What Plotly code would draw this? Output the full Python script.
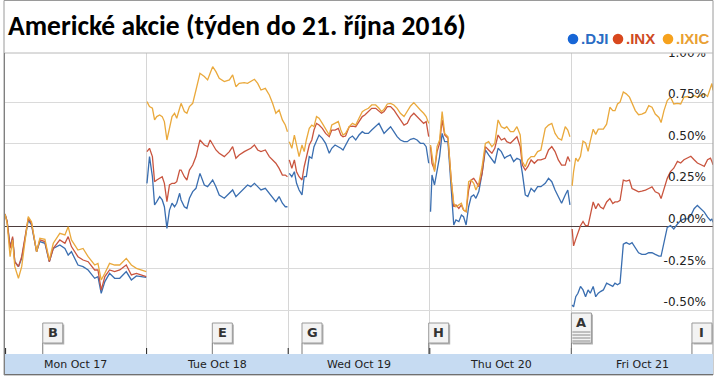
import plotly.graph_objects as go

# ---------------- data (percent change vs. previous close) ----------------
DAY_LABELS = ["Mon Oct 17", "Tue Oct 18", "Wed Oct 19", "Thu Oct 20", "Fri Oct 21"]
SERIES_NAMES = [".DJI", ".INX", ".IXIC"]
Y_TICKS = [-0.5, -0.25, 0.0, 0.25, 0.5, 0.75, 1.0]
Y_TICK_TEXT = ["-0.50%", "-0.25%", "0.00%", "0.25%", "0.50%", "0.75%", "1.00%"]

# minutes after market open for each sample, per day
MON_T = [0, 6, 14, 21, 27, 37, 46, 55, 64, 73, 87, 96, 110, 122, 133, 151, 165, 174, 183, 201, 215, 229, 247, 256, 265, 275, 288, 302, 316, 334, 348, 362, 375, 389]
MON_DJI = [0.078, 0.032, -0.118, -0.068, -0.209, -0.239, -0.189, -0.078, 0.042, 0.012, -0.149, -0.088, -0.098, -0.209, -0.129, -0.108, -0.129, -0.169, -0.149, -0.229, -0.239, -0.259, -0.309, -0.299, -0.400, -0.329, -0.279, -0.309, -0.309, -0.269, -0.319, -0.295, -0.299, -0.303]
MON_INX = [0.078, 0.032, -0.129, -0.058, -0.209, -0.239, -0.179, -0.058, 0.052, 0.022, -0.149, -0.078, -0.088, -0.209, -0.129, -0.078, -0.098, -0.058, -0.118, -0.179, -0.199, -0.209, -0.259, -0.259, -0.380, -0.299, -0.259, -0.269, -0.259, -0.229, -0.289, -0.279, -0.289, -0.299]
MON_IXIC = [0.078, 0.022, -0.179, -0.078, -0.239, -0.309, -0.239, -0.078, 0.062, 0.032, -0.149, -0.068, -0.074, -0.199, -0.098, -0.038, -0.048, 0.002, -0.078, -0.139, -0.129, -0.179, -0.229, -0.219, -0.319, -0.279, -0.219, -0.229, -0.229, -0.189, -0.229, -0.249, -0.259, -0.269]

TUE_T = [1, 8, 16, 22, 28, 36, 43, 49, 56, 63, 70, 77, 83, 91, 95, 104, 111, 118, 127, 136, 147, 159, 168, 175, 182, 191, 200, 214, 228, 237, 246, 255, 269, 278, 287, 297, 306, 315, 327, 338, 347, 356, 365, 374, 382, 388]
TUE_DJI = [0.263, 0.424, 0.303, 0.133, 0.153, 0.183, 0.163, 0.122, -0.008, 0.102, 0.143, 0.122, 0.143, 0.203, 0.163, 0.122, 0.112, 0.173, 0.213, 0.233, 0.323, 0.253, 0.243, 0.263, 0.283, 0.243, 0.193, 0.173, 0.203, 0.223, 0.183, 0.203, 0.233, 0.253, 0.243, 0.263, 0.243, 0.223, 0.233, 0.203, 0.173, 0.153, 0.183, 0.143, 0.122, 0.122]
TUE_INX = [0.454, 0.474, 0.424, 0.273, 0.283, 0.293, 0.303, 0.263, 0.153, 0.253, 0.263, 0.263, 0.273, 0.343, 0.343, 0.303, 0.283, 0.343, 0.373, 0.424, 0.524, 0.494, 0.484, 0.524, 0.494, 0.464, 0.444, 0.424, 0.454, 0.484, 0.414, 0.434, 0.454, 0.464, 0.474, 0.494, 0.464, 0.454, 0.464, 0.424, 0.404, 0.384, 0.353, 0.313, 0.313, 0.303]
TUE_IXIC = [0.755, 0.725, 0.715, 0.645, 0.665, 0.675, 0.665, 0.635, 0.524, 0.604, 0.665, 0.685, 0.655, 0.715, 0.745, 0.695, 0.685, 0.725, 0.745, 0.825, 0.926, 0.906, 0.886, 0.926, 0.966, 0.936, 0.896, 0.876, 0.886, 0.916, 0.845, 0.865, 0.869, 0.865, 0.876, 0.890, 0.865, 0.825, 0.835, 0.795, 0.745, 0.685, 0.705, 0.645, 0.614, 0.574]

WED_T = [3, 10, 17, 23, 30, 38, 44, 50, 58, 65, 71, 78, 85, 94, 103, 113, 120, 129, 138, 145, 151, 158, 168, 177, 186, 195, 204, 211, 221, 230, 241, 250, 257, 264, 273, 282, 291, 300, 309, 319, 328, 337, 346, 355, 364, 373, 380, 387]
WED_DJI = [0.323, 0.303, 0.333, 0.263, 0.223, 0.193, 0.303, 0.303, 0.424, 0.414, 0.484, 0.524, 0.554, 0.534, 0.504, 0.444, 0.474, 0.494, 0.484, 0.474, 0.464, 0.494, 0.534, 0.548, 0.524, 0.554, 0.574, 0.564, 0.564, 0.584, 0.604, 0.624, 0.594, 0.564, 0.584, 0.604, 0.574, 0.544, 0.524, 0.514, 0.514, 0.528, 0.534, 0.524, 0.504, 0.504, 0.484, 0.384]
WED_INX = [0.404, 0.353, 0.404, 0.333, 0.303, 0.283, 0.363, 0.414, 0.494, 0.524, 0.584, 0.624, 0.614, 0.594, 0.564, 0.544, 0.584, 0.584, 0.594, 0.554, 0.544, 0.548, 0.604, 0.608, 0.604, 0.635, 0.665, 0.675, 0.695, 0.715, 0.715, 0.695, 0.685, 0.695, 0.725, 0.725, 0.705, 0.675, 0.645, 0.614, 0.624, 0.665, 0.685, 0.665, 0.645, 0.624, 0.635, 0.544]
WED_IXIC = [0.514, 0.474, 0.554, 0.484, 0.424, 0.494, 0.454, 0.524, 0.594, 0.614, 0.604, 0.665, 0.655, 0.624, 0.594, 0.554, 0.614, 0.624, 0.635, 0.584, 0.554, 0.564, 0.604, 0.624, 0.614, 0.655, 0.695, 0.705, 0.715, 0.735, 0.735, 0.715, 0.695, 0.709, 0.741, 0.745, 0.735, 0.715, 0.685, 0.665, 0.695, 0.729, 0.749, 0.725, 0.705, 0.685, 0.665, 0.624]

THU_T = [2, 6, 13, 20, 27, 34, 41, 50, 59, 66, 72, 80, 87, 93, 100, 107, 114, 121, 127, 135, 144, 153, 162, 171, 179, 188, 197, 206, 212, 222, 231, 240, 249, 255, 263, 270, 279, 288, 297, 306, 318, 327, 336, 345, 354, 363, 373, 380, 386]
THU_DJI = [0.092, 0.313, 0.253, 0.343, 0.424, 0.564, 0.514, 0.514, 0.223, 0.012, 0.042, 0.032, 0.072, 0.062, 0.012, 0.122, 0.183, 0.193, 0.173, 0.213, 0.323, 0.464, 0.434, 0.404, 0.384, 0.474, 0.454, 0.414, 0.424, 0.434, 0.394, 0.414, 0.404, 0.323, 0.193, 0.183, 0.233, 0.213, 0.243, 0.243, 0.263, 0.293, 0.273, 0.223, 0.183, 0.143, 0.193, 0.223, 0.133]
THU_INX = [0.484, 0.384, 0.343, 0.454, 0.504, 0.645, 0.554, 0.534, 0.283, 0.122, 0.133, 0.112, 0.133, 0.102, 0.092, 0.223, 0.283, 0.293, 0.273, 0.243, 0.323, 0.484, 0.464, 0.444, 0.474, 0.554, 0.524, 0.534, 0.514, 0.504, 0.524, 0.544, 0.484, 0.373, 0.343, 0.363, 0.404, 0.384, 0.404, 0.404, 0.414, 0.464, 0.484, 0.454, 0.404, 0.373, 0.373, 0.424, 0.394]
THU_IXIC = [0.494, 0.424, 0.333, 0.484, 0.524, 0.695, 0.564, 0.544, 0.283, 0.143, 0.122, 0.133, 0.143, 0.102, 0.092, 0.273, 0.283, 0.263, 0.223, 0.263, 0.363, 0.504, 0.514, 0.484, 0.504, 0.645, 0.604, 0.594, 0.604, 0.574, 0.574, 0.604, 0.554, 0.394, 0.363, 0.404, 0.424, 0.424, 0.454, 0.464, 0.594, 0.614, 0.624, 0.564, 0.534, 0.524, 0.604, 0.584, 0.544]

FRI_T = [2, 6, 12, 18, 25, 32, 39, 46, 52, 60, 67, 74, 80, 88, 97, 106, 114, 120, 127, 134, 143, 151, 160, 167, 176, 185, 194, 204, 213, 222, 231, 241, 247, 255, 264, 273, 282, 292, 301, 310, 320, 329, 338, 347, 357, 366, 375, 383, 387, 390]
FRI_DJI = [-0.470, -0.481, -0.420, -0.399, -0.358, -0.379, -0.420, -0.379, -0.399, -0.358, -0.420, -0.399, -0.389, -0.379, -0.338, -0.348, -0.358, -0.338, -0.348, -0.338, -0.104, -0.094, -0.104, -0.094, -0.124, -0.155, -0.165, -0.165, -0.155, -0.155, -0.165, -0.175, -0.175, -0.094, -0.002, 0.008, -0.012, 0.018, 0.039, 0.049, 0.049, 0.069, 0.110, 0.130, 0.110, 0.090, 0.059, 0.039, 0.049, 0.029]
FRI_INX = [-0.012, -0.114, -0.073, -0.033, 0.008, 0.033, 0.008, 0.008, 0.069, 0.151, 0.110, 0.141, 0.120, 0.110, 0.151, 0.171, 0.141, 0.151, 0.151, 0.161, 0.283, 0.277, 0.283, 0.232, 0.222, 0.212, 0.216, 0.222, 0.232, 0.242, 0.212, 0.202, 0.171, 0.222, 0.293, 0.334, 0.354, 0.395, 0.385, 0.405, 0.415, 0.426, 0.405, 0.385, 0.375, 0.365, 0.405, 0.415, 0.395, 0.375]
FRI_IXIC = [0.248, 0.334, 0.415, 0.395, 0.426, 0.517, 0.507, 0.456, 0.517, 0.589, 0.558, 0.589, 0.589, 0.589, 0.619, 0.721, 0.701, 0.701, 0.741, 0.752, 0.813, 0.802, 0.782, 0.741, 0.701, 0.676, 0.680, 0.690, 0.731, 0.721, 0.680, 0.660, 0.629, 0.701, 0.762, 0.782, 0.741, 0.745, 0.741, 0.782, 0.786, 0.778, 0.792, 0.782, 0.792, 0.802, 0.786, 0.843, 0.864, 0.823]

# news flags: letter, day index, minute of day
FLAG_LABELS = ["B", "E", "G", "H", "A", "I"]
FLAG_DAY = [0, 1, 2, 2, 4, 4]
FLAG_MIN = [104, 181, 38, 387, 0, 332]

# ---------------- layout geometry ----------------
W, H = 718, 378
L, R, T, B = 5, 713, 53, 354
DAY_LEN = 390
X0, X1 = 0, 5 * DAY_LEN
Y0, Y1 = -0.765, 1.048
PXX = (X1 - X0) / (R - L)   # data units per pixel (x)
PXY = (Y1 - Y0) / (B - T)   # data units per pixel (y)


def fx(p):
    return (p - L) / (R - L)


def fy(p):
    return (B - p) / (B - T)


TIMES = [MON_T, TUE_T, WED_T, THU_T, FRI_T]
SERIES = {
    ".DJI": [MON_DJI, TUE_DJI, WED_DJI, THU_DJI, FRI_DJI],
    ".INX": [MON_INX, TUE_INX, WED_INX, THU_INX, FRI_INX],
    ".IXIC": [MON_IXIC, TUE_IXIC, WED_IXIC, THU_IXIC, FRI_IXIC],
}
LINE_COLORS = {".DJI": "#3a6eb0", ".INX": "#c9553f", ".IXIC": "#eaa93c"}
DOT_COLORS = {".DJI": "#1766d6", ".INX": "#d8481e", ".IXIC": "#f6a21e"}
TEXT_COLORS = {".DJI": "#2a6cc4", ".INX": "#cf4a24", ".IXIC": "#e9a033"}


def build(days):
    xs, ys = [], []
    for d, (ts, vs) in enumerate(zip(TIMES, days)):
        xs += [d * DAY_LEN + t for t in ts]
        ys += list(vs)
        xs.append(None)
        ys.append(None)
    return xs, ys


fig = go.Figure()
for name in SERIES_NAMES:
    xs, ys = build(SERIES[name])
    fig.add_trace(go.Scatter(x=xs, y=ys, mode="lines", name=name,
                             line=dict(color=LINE_COLORS[name], width=1.3),
                             connectgaps=False, hoverinfo="skip", showlegend=False))

# right-hand percent labels (inside plot, clipped by plot area)
fig.add_trace(go.Scatter(
    x=[X0 + (706 - L) * PXX] * len(Y_TICKS),
    y=[v + 7 * PXY for v in Y_TICKS],
    mode="text", text=Y_TICK_TEXT, textposition="middle left",
    textfont=dict(family="DejaVu Sans", size=12, color="#222"),
    hoverinfo="skip", showlegend=False, cliponaxis=True))

shapes = []
annotations = []

# white cover above plot top (clips the topmost label like the original)
shapes.append(dict(type="rect", xref="paper", yref="paper",
                   x0=fx(630), x1=fx(712), y0=fy(53), y1=fy(46.5),
                   fillcolor="white", line=dict(width=0)))
# outer frame
shapes.append(dict(type="rect", xref="paper", yref="paper",
                   x0=fx(4), x1=fx(713), y0=fy(375), y1=fy(0.5),
                   line=dict(color="#9a9a9a", width=1)))
# top line of plot area
shapes.append(dict(type="line", xref="paper", yref="paper",
                   x0=fx(4), x1=fx(713), y0=fy(53), y1=fy(53),
                   line=dict(color="#b8b8b8", width=1)))
# date band
shapes.append(dict(type="rect", xref="paper", yref="paper",
                   x0=fx(5), x1=fx(713), y0=fy(374), y1=fy(354),
                   fillcolor="#c6dbf2", line=dict(width=0)))
shapes.append(dict(type="line", xref="paper", yref="paper",
                   x0=fx(4), x1=fx(713), y0=fy(374.5), y1=fy(374.5),
                   line=dict(color="#707070", width=1)))
shapes.append(dict(type="line", xref="paper", yref="paper",
                   x0=fx(4.5), x1=fx(4.5), y0=fy(375), y1=fy(53),
                   line=dict(color="#808080", width=1)))
# day boundary ticks
for d in range(5):
    shapes.append(dict(type="line", xref="x", yref="paper",
                       x0=d * DAY_LEN + 0.6 * PXX if d == 0 else d * DAY_LEN,
                       x1=d * DAY_LEN + 0.6 * PXX if d == 0 else d * DAY_LEN,
                       y0=fy(354), y1=fy(348), line=dict(color="#222", width=1)))
# day labels
for d, lab in enumerate(DAY_LABELS):
    annotations.append(dict(x=d * DAY_LEN + DAY_LEN / 2, y=fy(364), xref="x", yref="paper",
                            text=lab, showarrow=False, xanchor="center", yanchor="middle",
                            font=dict(family="DejaVu Sans", size=11, color="#222")))

# news flags
for lab, d, m in zip(FLAG_LABELS, FLAG_DAY, FLAG_MIN):
    x = d * DAY_LEN + m
    top = 313 if lab == "A" else 323
    xr = min(x + 20 * PXX, X1)
    # shadow
    shapes.append(dict(type="rect", xref="x", yref="paper",
                       x0=x + 1.5 * PXX, x1=min(x + 21.5 * PXX, X1), y0=fy(344.5), y1=fy(top + 1.5),
                       fillcolor="#b0b0b0", line=dict(width=0)))
    shapes.append(dict(type="rect", xref="x", yref="paper",
                       x0=x, x1=xr, y0=fy(343), y1=fy(top),
                       fillcolor="#f3f3f3", line=dict(color="#9a9a9a", width=1)))
    shapes.append(dict(type="line", xref="x", yref="paper",
                       x0=x, x1=x, y0=fy(354), y1=fy(343),
                       line=dict(color="#7a7a7a", width=1)))
    if lab == "A":
        for sy in (332, 335, 338, 341):
            shapes.append(dict(type="line", xref="x", yref="paper",
                               x0=x + 1 * PXX, x1=x + 19 * PXX, y0=fy(sy), y1=fy(sy),
                               line=dict(color="#8a8a8a", width=1)))
    annotations.append(dict(x=x + 10 * PXX, y=fy(top + 9), xref="x", yref="paper",
                            text=lab, showarrow=False, xanchor="center", yanchor="middle",
                            font=dict(family="DejaVu Sans", size=13, color="#333", weight="bold")))

# legend (dots + coloured text)
LEG_DOT_X = [573, 618, 668]
LEG_TXT_X = [578.5, 623.5, 673.5]
for name, dx, tx in zip(SERIES_NAMES, LEG_DOT_X, LEG_TXT_X):
    shapes.append(dict(type="circle", xref="paper", yref="paper",
                       x0=fx(dx - 5.3), x1=fx(dx + 5.3), y0=fy(44.3), y1=fy(33.7),
                       fillcolor=DOT_COLORS[name], line=dict(width=0)))
    annotations.append(dict(x=fx(tx), y=fy(39), xref="paper", yref="paper",
                            text=name, showarrow=False, xanchor="left", yanchor="middle",
                            font=dict(family="Liberation Sans, Arial", size=15, weight="bold",
                                      color=TEXT_COLORS[name])))

fig.update_layout(
    width=W, height=H,
    margin=dict(l=L, r=W - R, t=T, b=H - B, pad=0),
    paper_bgcolor="white", plot_bgcolor="white",
    title=dict(text="<b>Americké akcie (týden do 21. října 2016)</b>",
               x=8 / W, xanchor="left", xref="container",
               y=1 - 25 / H, yanchor="middle", yref="container",
               font=dict(family="Carlito, Liberation Sans Narrow, Roboto", size=27.5, color="#000")),
    xaxis=dict(range=[X0, X1], tickvals=[DAY_LEN * k for k in range(1, 5)],
               showticklabels=False, ticks="", showgrid=True, gridcolor="#d6d6d6", gridwidth=1,
               zeroline=False, showline=False, fixedrange=True),
    yaxis=dict(range=[Y0, Y1], tickvals=Y_TICKS[:-1], showticklabels=False, ticks="",
               showgrid=True, gridcolor="#dadada", gridwidth=1,
               zeroline=True, zerolinecolor="#4d3d3d", zerolinewidth=1.3,
               showline=False, fixedrange=True),
    shapes=shapes, annotations=annotations,
    hovermode=False, showlegend=False,
)

fig.write_html("out.html", config={"displayModeBar": False},
               post_script="document.body.style.margin='0';document.body.style.padding='0';")
